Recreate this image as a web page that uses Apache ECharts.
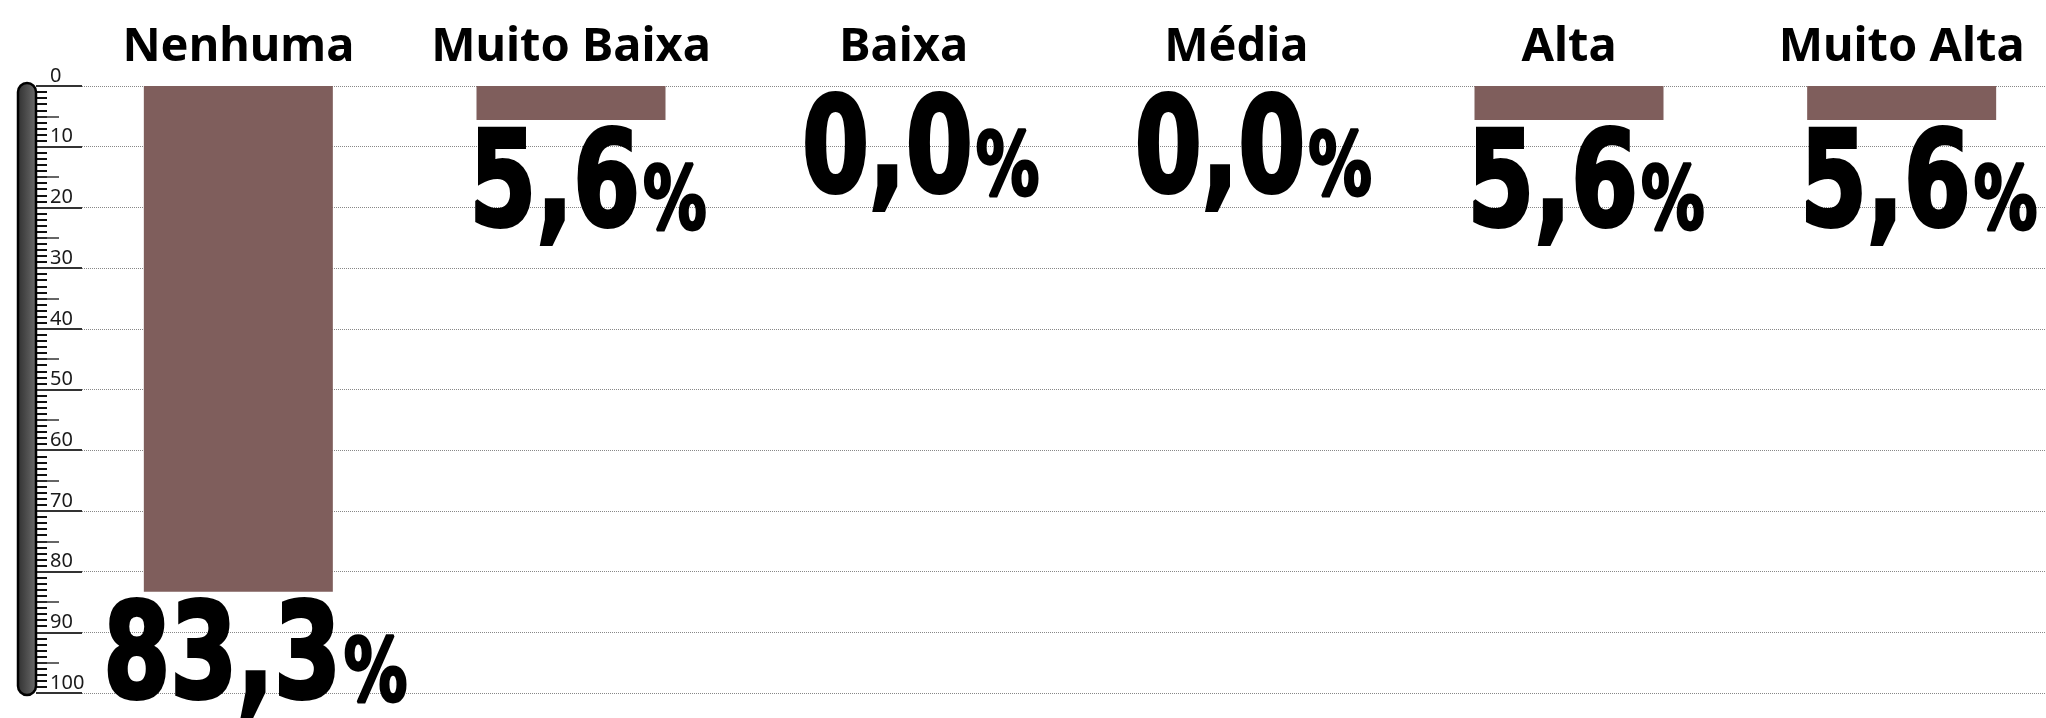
<!DOCTYPE html>
<html>
<head>
<meta charset="utf-8">
<title>Grau</title>
<script src="https://cdn.jsdelivr.net/npm/echarts@6/dist/echarts.min.js"></script>
<style>
	html, body { margin: 0; padding: 0; background: #fff; }
	#main { width: 2046px; height: 718px; }
</style>
</head>
<body>
<div id="main"></div>
<script>
	// dados
	var categorias = ['Nenhuma', 'Muito Baixa', 'Baixa', 'Média', 'Alta', 'Muito Alta'];
	var valores = [83.3, 5.6, 0.0, 0.0, 5.6, 5.6];
	var escalaMin = 0,
		escalaMax = 100,
		escalaPasso = 10;

	var corBarra = '#7f5e5c',
		fonteTitulo = '"Noto Sans", sans-serif',
		fonteNumero = '"DejaVu Sans", sans-serif';

	var myChart = echarts.init(document.getElementById('main'));

	// eixo do termometro (regua da esquerda)
	function regua(passo, comprimento, largura, cor, extra) {
		var eixo = {
			type: 'value',
			gridIndex: 1,
			position: 'left',
			offset: 0,
			min: escalaMin,
			max: escalaMax,
			interval: passo,
			inverse: true,
			axisLine: { show: false },
			axisTick: { show: true, inside: true, length: comprimento, lineStyle: { color: cor, width: largura } },
			axisLabel: { show: false },
			splitLine: { show: false }
		};
		return Object.assign(eixo, extra || {});
	}

	// numero grande com % (fonte condensada via scaleX)
	function rotulo(params, api) {
		var pt = api.coord([api.value(0), api.value(1)]);
		var txt = api.value(1).toFixed(1).replace('.', ',');
		return {
			type: 'text',
			x: pt[0] + 17,
			y: pt[1] + 5,
			scaleX: 0.73,
			style: {
				text: '{n|' + txt + '}{p|%}',
				align: 'center',
				verticalAlign: 'top',
				rich: {
					n: {
						fontFamily: fonteNumero,
						fontWeight: 'bold',
						fontSize: 132,
						fill: '#000',
						stroke: '#000',
						lineWidth: 4,
						verticalAlign: 'bottom'
					},
					p: {
						fontFamily: fonteNumero,
						fontWeight: 'bold',
						fontSize: 87,
						fill: '#000',
						stroke: '#000',
						lineWidth: 3,
						verticalAlign: 'bottom',
						padding: [0, 0, 7, 4]
					}
				}
			}
		};
	}

	var option = {
		animation: false,
		backgroundColor: '#fff',
		grid: [
			{ left: 72, top: 86, width: 1996, height: 607, outerBoundsMode: 'none' },
			{ left: 36, top: 86, right: 0, height: 607, outerBoundsMode: 'none' }
		],
		xAxis: [{
			type: 'category',
			gridIndex: 0,
			position: 'top',
			data: categorias,
			axisLine: { show: false },
			axisTick: { show: false },
			axisLabel: {
				interval: 0,
				margin: 15,
				fontFamily: fonteTitulo,
				fontWeight: 'bold',
				fontSize: 47,
				color: '#000'
			}
		}, {
			type: 'value',
			gridIndex: 1,
			min: 0,
			max: 1,
			show: false
		}],
		yAxis: [{
			type: 'value',
			gridIndex: 0,
			min: escalaMin,
			max: escalaMax,
			inverse: true,
			show: false
		},
		regua(1, 11, 2, '#111'),
		regua(5, 23, 1.5, '#333'),
		regua(escalaPasso, 46, 2, '#333', {
			axisLabel: {
				show: true,
				inside: true,
				margin: 14,
				verticalAlign: 'bottom',
				fontFamily: fonteTitulo,
				fontSize: 20,
				color: '#1a1a1a'
			},
			splitLine: {
				show: true,
				lineStyle: { color: '#888', type: 'dotted', width: 1 }
			}
		})],
		graphic: [{
			type: 'rect',
			shape: { x: 18, y: 83, width: 18, height: 612, r: 9 },
			style: {
				fill: new echarts.graphic.LinearGradient(0, 0, 1, 0, [
					{ offset: 0, color: '#2e2e2e' },
					{ offset: 1, color: '#6e6e6e' }
				]),
				stroke: '#000',
				lineWidth: 2.5
			},
			z: 10
		}],
		series: [{
			type: 'bar',
			xAxisIndex: 0,
			yAxisIndex: 0,
			data: valores,
			barWidth: 189,
			itemStyle: { color: corBarra }
		}, {
			type: 'custom',
			xAxisIndex: 0,
			yAxisIndex: 0,
			data: valores.map(function(v, i) { return [i, v]; }),
			renderItem: rotulo,
			z: 5
		}]
	};

	myChart.setOption(option);
</script>
</body>
</html>
